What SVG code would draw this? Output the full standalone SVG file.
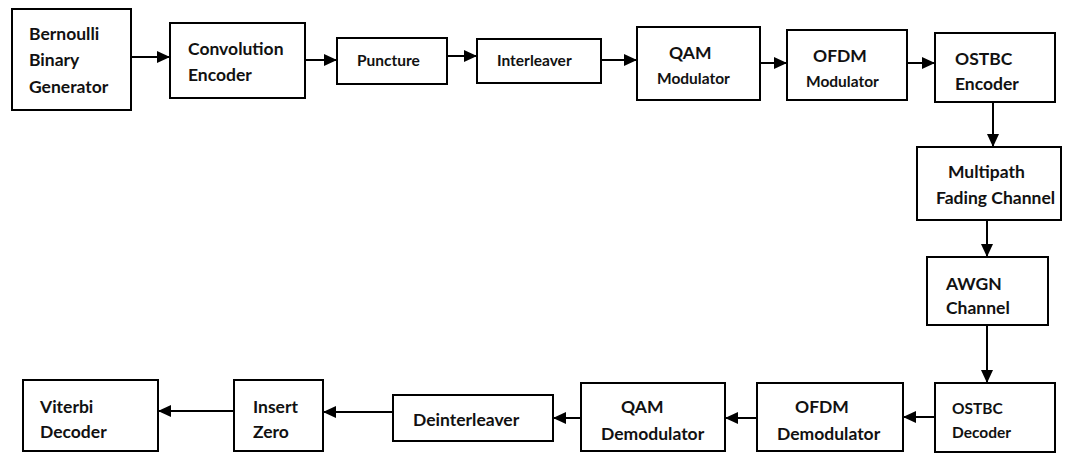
<svg xmlns="http://www.w3.org/2000/svg" width="1065" height="453" viewBox="0 0 1065 453">
<style>
.box{fill:#fff;stroke:#000;stroke-width:2}
.t{font-family:Lato,"Liberation Sans",sans-serif;font-weight:700;fill:#111;font-size:17.5px}
.s{font-size:15.5px}
.c{fill:none;stroke:#000;stroke-width:2}
</style>
<defs>
<marker id="ah" markerUnits="userSpaceOnUse" markerWidth="14" markerHeight="12" refX="13" refY="6" orient="auto">
<path d="M0,0 L13,6 L0,12 Z" fill="#000"/>
</marker>
</defs>
<rect width="1065" height="453" fill="#fff"/>
<g id="connectors">
<line class="c" x1="131" y1="57" x2="170" y2="57" marker-end="url(#ah)"/>
<line class="c" x1="305" y1="60" x2="337" y2="60" marker-end="url(#ah)"/>
<line class="c" x1="447" y1="56" x2="477" y2="56" marker-end="url(#ah)"/>
<line class="c" x1="601" y1="60" x2="637" y2="60" marker-end="url(#ah)"/>
<line class="c" x1="760" y1="63" x2="787" y2="63" marker-end="url(#ah)"/>
<line class="c" x1="907" y1="63" x2="935" y2="63" marker-end="url(#ah)"/>
<line class="c" x1="993" y1="102" x2="993" y2="147" marker-end="url(#ah)"/>
<line class="c" x1="987" y1="220" x2="987" y2="257" marker-end="url(#ah)"/>
<line class="c" x1="987" y1="325" x2="987" y2="383" marker-end="url(#ah)"/>
<line class="c" x1="935" y1="417" x2="903" y2="417" marker-end="url(#ah)"/>
<line class="c" x1="757" y1="418" x2="725" y2="418" marker-end="url(#ah)"/>
<line class="c" x1="581" y1="418" x2="553" y2="418" marker-end="url(#ah)"/>
<line class="c" x1="393" y1="412" x2="323" y2="412" marker-end="url(#ah)"/>
<line class="c" x1="234" y1="411" x2="158" y2="411" marker-end="url(#ah)"/>
</g>
<g id="bernoulli"><rect class="box" x="12" y="9" width="119" height="101"/>
<text class="t" x="29" y="40">Bernoulli</text><text class="t" x="29" y="66">Binary</text><text class="t" x="29" y="93">Generator</text></g>
<g id="convolution"><rect class="box" x="170" y="23" width="135" height="75"/>
<text class="t" x="188" y="55">Convolution</text><text class="t" x="188" y="81">Encoder</text></g>
<g id="puncture"><rect class="box" x="337" y="38" width="110" height="46"/>
<text class="t s" x="357" y="66">Puncture</text></g>
<g id="interleaver"><rect class="box" x="477" y="39" width="124" height="44"/>
<text class="t s" x="497" y="66">Interleaver</text></g>
<g id="qam-mod"><rect class="box" x="637" y="27" width="123" height="73"/>
<text class="t" x="669" y="59">QAM</text><text class="t s" x="657" y="84">Modulator</text></g>
<g id="ofdm-mod"><rect class="box" x="787" y="30" width="120" height="70"/>
<text class="t" x="813" y="62">OFDM</text><text class="t s" x="806" y="87">Modulator</text></g>
<g id="ostbc-enc"><rect class="box" x="935" y="33" width="120" height="69"/>
<text class="t" x="955" y="65">OSTBC</text><text class="t" x="955" y="90">Encoder</text></g>
<g id="multipath"><rect class="box" x="917" y="147" width="144" height="73"/>
<text class="t" x="948" y="178">Multipath</text><text class="t" x="936" y="204">Fading Channel</text></g>
<g id="awgn"><rect class="box" x="927" y="257" width="121" height="68"/>
<text class="t" x="946" y="290">AWGN</text><text class="t" x="946" y="314">Channel</text></g>
<g id="ostbc-dec"><rect class="box" x="935" y="383" width="120" height="69"/>
<text class="t s" x="952" y="414">OSTBC</text><text class="t s" x="952" y="438">Decoder</text></g>
<g id="ofdm-demod"><rect class="box" x="757" y="383" width="146" height="68"/>
<text class="t" x="795" y="413">OFDM</text><text class="t" x="777" y="440">Demodulator</text></g>
<g id="qam-demod"><rect class="box" x="581" y="383" width="144" height="68"/>
<text class="t" x="621" y="413">QAM</text><text class="t" x="601" y="440">Demodulator</text></g>
<g id="deinterleaver"><rect class="box" x="393" y="395" width="160" height="46"/>
<text class="t" x="413" y="426">Deinterleaver</text></g>
<g id="insert-zero"><rect class="box" x="234" y="380" width="89" height="71"/>
<text class="t" x="253" y="413">Insert</text><text class="t" x="253" y="438">Zero</text></g>
<g id="viterbi"><rect class="box" x="23" y="380" width="135" height="71"/>
<text class="t" x="40" y="413">Viterbi</text><text class="t" x="40" y="438">Decoder</text></g>
</svg>
